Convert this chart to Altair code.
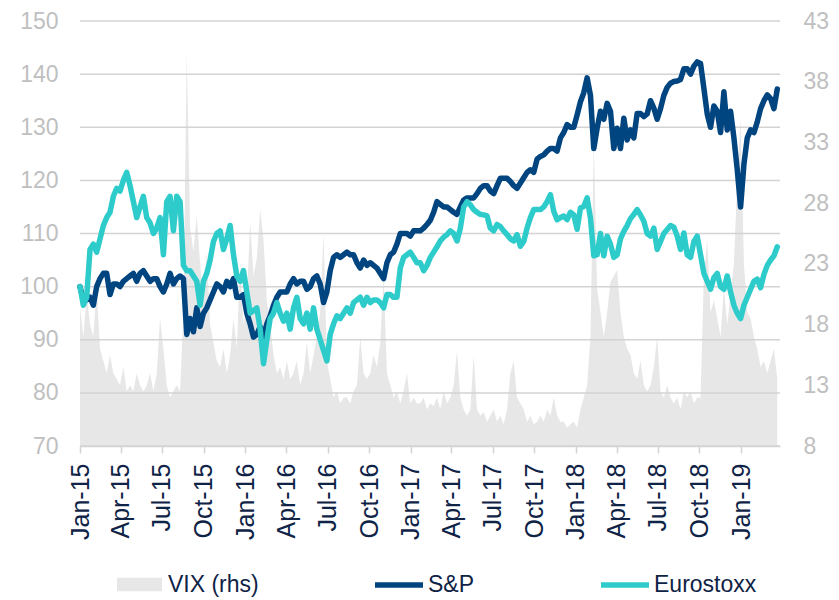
import altair as alt
import pandas as pd

START = "2015-01-01"
END = "2019-03-22"

sp_values = [
    100, 97.5, 97.5, 98, 96.5, 100, 101.5, 102.5, 102.5, 98.5,
    100.5, 100.5, 100, 101, 101.5, 102, 102.5, 101, 102.5, 103,
    102, 101, 101.5, 101.5, 100, 99, 100.5, 102.5, 100.5, 101.5,
    102, 101.5, 91, 94, 91.5, 96, 92.5, 95, 96, 97.5,
    99, 100.5, 100, 99, 101, 100, 101.5, 98, 98, 98.5,
    95, 93, 90.5, 91, 92.5, 90.5, 93, 94.5, 96.5, 98,
    99, 99, 99, 100.5, 101.5, 100.5, 101, 101, 99.5, 100,
    101.5, 102, 100.5, 97, 99, 103, 105.5, 106, 105.5, 106,
    106.5, 106, 106, 104.5, 103.5, 105, 104, 104.5, 104, 103.5,
    102.5, 101.5, 104.5, 106, 106.5, 108, 110, 110, 110, 109.5,
    110.5, 110.5,
    110.5, 111, 111.7, 112.5, 114, 116, 115.5, 115, 115, 114.5,
    114, 113.6, 115, 116.3, 116.7, 116.7, 116.7, 117.5, 118.5, 119,
    119, 118, 117.5, 119, 120.4, 120.4, 120.4, 119.8, 119, 118.5,
    119.5, 120.5, 121.5, 122, 121.5, 124, 124.5, 124.8, 125.5, 126,
    126, 125.5, 128, 129, 130.5, 130, 130, 132.3, 134.8, 136.5,
    139.3, 136, 126, 129.8, 133, 131.5, 134.5, 133, 126, 129.8,
    126, 131.7, 127.6, 129.5, 128, 132.6, 132.6, 132, 132.5, 135,
    133.6, 131.5, 133.5, 136, 137.5, 138.3, 138.6, 138.7, 139, 141,
    141, 140, 141.5, 142.3, 142, 137.3, 132.5, 130, 134, 133,
    129, 136.7, 129.5, 133, 128, 122, 115, 123, 128, 129.5,
    129, 131, 133.5, 135, 136.1, 135.4, 133.5, 137.2,
]

es_values = [
    100, 96.5, 98, 107, 108, 106.5, 109, 111.5, 113, 114,
    117, 118.5, 118, 120, 121.5, 119, 116, 113, 115, 117,
    113, 112, 110, 111, 113, 106, 116, 117, 110.5, 117,
    116, 104, 103, 103, 102, 101, 96.5, 101, 102.5, 105,
    108.5, 110, 110.5, 107, 109, 111.5, 106, 102, 101, 103,
    99, 95, 95.5, 96, 92, 85.5, 90, 94, 95, 97,
    95, 93.5, 95, 92, 96, 98, 94, 93, 95, 92,
    96, 92, 90, 88, 86, 91, 93, 94.5, 94, 95,
    96, 95, 97, 97.5, 98, 96.5, 98, 97, 97.5, 97.5,
    97, 96, 98.5, 98.5, 98, 98, 103.5, 105.5, 106, 106.5,
    105.5, 104.5,
    104.5, 103, 104, 105.5, 106.5, 107.5, 108.6, 109.3, 109.8, 110.5,
    110, 108.6, 111, 115, 116, 115.4, 114.5, 114, 113.6, 113.5,
    113.3, 111, 110.5, 111.7, 111.3, 110.5, 109.8, 109, 108.6, 109.8,
    107.6, 108.5, 111, 113, 114.5, 114.5, 114.5, 115, 116, 117.3,
    114.2, 112.6, 113, 113.3, 112.6, 114, 113.5, 110.8, 114.8, 115.1,
    116.7, 112.9, 105.8, 106, 110, 105.8, 109.5, 108, 105.5, 106,
    109, 110.4, 111.5, 112.8, 113.6, 114.5, 113.5, 112.3, 110, 109.5,
    111, 107, 108.5, 110, 110.75, 111.5, 111.2, 109.5, 107, 110.1,
    106, 105.5, 108.5, 109.5, 106, 102.5, 101, 99.5, 101.7, 102.5,
    100, 99.5, 102, 99, 96.5, 95, 94, 96.5, 98, 99.5,
    101, 101.4, 99.8, 102.3, 104, 105, 105.8, 107.5,
]

vix_values = [
    19.5, 17, 20.5, 18, 17, 21, 16, 15, 14, 15.5,
    14, 13.5, 13, 14.5, 12.5, 13, 12.5, 14, 13, 12.5,
    13, 14, 12.5, 14, 18.5, 16, 13, 12, 12.5, 13,
    12.5, 19, 40.5, 26, 24, 27, 23, 20, 24, 18,
    16.5, 15, 14.5, 16, 14, 15.5, 18.5, 16, 23, 18,
    20, 26.5, 22, 23.5, 27.5, 25, 20, 18, 15.5, 14,
    14.5, 13.5, 15, 13.5, 14, 15, 13, 14, 16.5, 14,
    15.5, 17, 19, 25.5, 15, 13.5, 12, 12.5, 11.5, 12,
    12, 11.5, 12.5, 13, 17, 14, 13.5, 14, 15.5, 14.5,
    16.5, 22, 14, 13, 12, 12.5, 11.5, 12.5, 14, 11.5,
    12, 11.5,
    11.5, 12, 11, 11.5, 11.3, 12, 11, 12.5, 11.5, 12,
    13, 15.8, 12, 11, 10.5, 11, 15.5, 11, 10.5, 10.8,
    10, 10.5, 11, 10, 10.5, 9.8, 11, 14, 15, 12,
    11.5, 11, 10, 10.5, 9.8, 10, 10.5, 10, 11, 10.5,
    12, 10.5, 10, 10, 9.5, 9.8, 10, 9.5, 11, 12,
    13, 17, 33, 21, 19, 17, 19, 21.5, 22, 22.5,
    19, 17, 16, 15.5, 14, 13.5, 15, 13, 12.5, 13,
    14.5, 17, 12.5, 12, 13, 12, 11.5, 12, 11, 12.5,
    12, 12.5, 11.5, 12, 12, 22, 25, 19, 20, 18.5,
    17, 21, 18, 20.5, 23, 30, 35, 23, 19, 18.5,
    17, 16, 14.5, 15, 14, 15, 16, 13.5,
]

left_ticks = [70, 80, 90, 100, 110, 120, 130, 140, 150]
right_ticks = [8, 13, 18, 23, 28, 33, 38, 43]
quarter_ticks = [(y, m) for y in range(2015, 2020) for m in (1, 4, 7, 10) if not (y == 2019 and m > 1)]

NAVY = "#00457f"
TEAL = "#2ecbcb"
GREY = "#e7e7e7"
GRID = "#d3d3d3"
AXIS_GREY = "#bfbfbf"
TEXT = "#0f2346"
FONT = "Liberation Sans"

df_sp = pd.DataFrame({"date": pd.date_range(START, END, periods=len(sp_values)), "value": sp_values, "series": "S&P"})
df_es = pd.DataFrame({"date": pd.date_range(START, END, periods=len(es_values)), "value": es_values, "series": "Eurostoxx"})
df_vix = pd.DataFrame({"date": pd.date_range(START, END, periods=len(vix_values)), "vix": vix_values, "series": "VIX (rhs)"})
df_grid = pd.DataFrame({"v": left_ticks})

x_scale = alt.Scale(domain=[alt.DateTime(year=2015, month=1, date=1), alt.DateTime(year=2019, month=3, date=28)])
x_axis = alt.Axis(
    format="%b-%y",
    values=[alt.DateTime(year=y, month=m, date=1) for y, m in quarter_ticks],
    labelAngle=270,
    labelAlign="right",
    labelBaseline="middle",
    labelFont=FONT,
    labelFontSize=25,
    labelColor=TEXT,
    labelPadding=10,
    tickSize=7,
    tickColor=GRID,
    tickWidth=1.5,
    domainColor=GRID,
    domainWidth=1.5,
    grid=False,
    title=None,
    labelOverlap=False,
)
left_scale = alt.Scale(domain=[70, 150], nice=False, zero=False)

area = alt.Chart(df_vix).mark_area(opacity=1, clip=True).encode(
    x=alt.X("date:T", scale=x_scale, axis=x_axis, title=None),
    y=alt.Y(
        "vix:Q",
        scale=alt.Scale(domain=[8, 43], nice=False, zero=False),
        axis=alt.Axis(
            orient="right", values=right_ticks, grid=False, domain=False, ticks=False,
            labelFont=FONT, labelFontSize=23, labelColor=AXIS_GREY, labelPadding=23, title=None,
        ),
        title=None,
    ),
    fill=alt.Fill(
        "series:N",
        scale=alt.Scale(domain=["VIX (rhs)"], range=[GREY]),
        legend=alt.Legend(
            orient="none", legendX=37, legendY=541, title=None,
            symbolType="M-1,-0.3H1V0.3H-1Z", symbolSize=2025, symbolStrokeWidth=0, symbolOpacity=1,
            labelFont=FONT, labelFontSize=23, labelColor=TEXT, labelOffset=6, padding=0,
        ),
    ),
)

rules = alt.Chart(df_grid).mark_rule(color=GRID, strokeWidth=1.5).encode(
    y=alt.Y(
        "v:Q", scale=left_scale,
        axis=alt.Axis(
            orient="left", values=left_ticks, grid=False, domain=False, ticks=False,
            labelFont=FONT, labelFontSize=23, labelColor=AXIS_GREY, labelPadding=22, title=None,
        ),
        title=None,
    )
)

stroke_scale = alt.Scale(domain=["S&P", "Eurostoxx"], range=[NAVY, TEAL])
line_legend = alt.Legend(
    orient="none", legendX=292, legendY=537, direction="horizontal", title=None,
    symbolType="stroke", symbolSize=2304, symbolStrokeWidth=5.5,
    labelFont=FONT, labelFontSize=23, labelColor=TEXT, labelOffset=2, columnPadding=115, padding=0,
)

line_sp = alt.Chart(df_sp).mark_line(strokeWidth=5.5, strokeJoin="round", strokeCap="round").encode(
    x=alt.X("date:T", scale=x_scale, title=None),
    y=alt.Y("value:Q", scale=left_scale, title=None),
    stroke=alt.Stroke("series:N", scale=stroke_scale, legend=line_legend),
)
line_es = alt.Chart(df_es).mark_line(strokeWidth=5.5, strokeJoin="round", strokeCap="round").encode(
    x=alt.X("date:T", scale=x_scale, title=None),
    y=alt.Y("value:Q", scale=left_scale, title=None),
    stroke=alt.Stroke("series:N", scale=stroke_scale, legend=line_legend),
)

left_layer = alt.layer(rules, line_sp, line_es)

chart = (
    alt.layer(area, left_layer)
    .resolve_scale(y="independent")
    .properties(
        width=700,
        height=425,
        padding={"left": 72, "top": 13, "right": 51, "bottom": 151},
        autosize=alt.AutoSizeParams(type="none"),
        background="white",
    )
    .configure_view(stroke=None)
)

chart.save("out.html", embed_options={"renderer": "svg", "actions": False})
